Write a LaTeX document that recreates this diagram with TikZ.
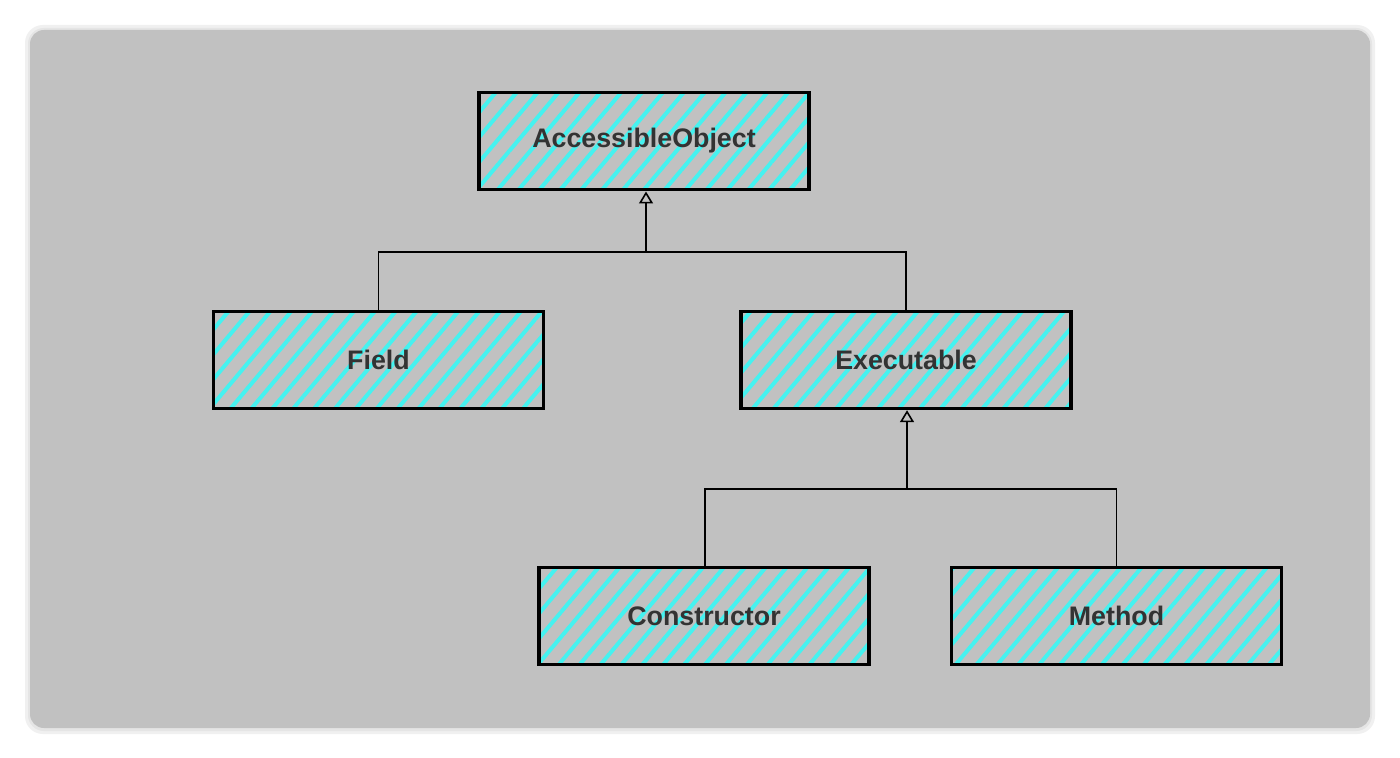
\documentclass[tikz,border=0pt]{standalone}
\usepackage{fontspec}
\setmainfont{Liberation Sans}
\usetikzlibrary{patterns.meta,arrows.meta}
\definecolor{panelgray}{HTML}{C1C1C1}
\definecolor{hatchcyan}{HTML}{45F2F0}
\definecolor{labeltext}{HTML}{333333}
\tikzset{
  classbox/.style={draw=black, line width=1.7pt, minimum width=165pt, minimum height=48.5pt,
    pattern={Lines[angle=50, distance=8pt, line width=2pt]}, pattern color=hatchcyan,
    font=\fontsize{13.4}{15}\selectfont\bfseries, text=labeltext},
  link/.style={draw=black, line width=0.7pt},
  inherit/.style={link, -{Triangle[open, width=7pt, length=6pt, line width=0.8pt]}}
}
\begin{document}
\begin{tikzpicture}[x=0.5pt, y=-0.5pt]
  % Canvas
  \fill[white] (0,0) rectangle (1400,758);
  \useasboundingbox (0,0) rectangle (1400,758);
  \fill[black!6, rounded corners=9pt] (25,25) rectangle (1375,734);
  \fill[black!10, rounded corners=8pt] (28,28) rectangle (1372,731);
  \fill[panelgray, rounded corners=7pt] (30,30) rectangle (1370,728);

  % Classes
  \node[classbox] (accobj) at (644,141) {AccessibleObject};
  \node[classbox] (field) at (378.5,360) {Field};
  \node[classbox] (exec) at (906,360) {Executable};
  \node[classbox] (ctor) at (704,616) {Constructor};
  \node[classbox] (method) at (1116.5,616) {Method};

  % Junctions
  \coordinate (joinA) at (646,252);
  \coordinate (joinB) at (907,489);

  % Inheritance: AccessibleObject
  \draw[link] (field.north) |- (joinA);
  \draw[link] (exec.north) |- (joinA);
  \draw[inherit] (joinA) -- (accobj.south -| joinA);

  % Inheritance: Executable
  \draw[link] ([xshift=0.5]ctor.north) |- (joinB);
  \draw[link] (method.north) |- (joinB);
  \draw[inherit] (joinB) -- (exec.south -| joinB);
\end{tikzpicture}
\end{document}
